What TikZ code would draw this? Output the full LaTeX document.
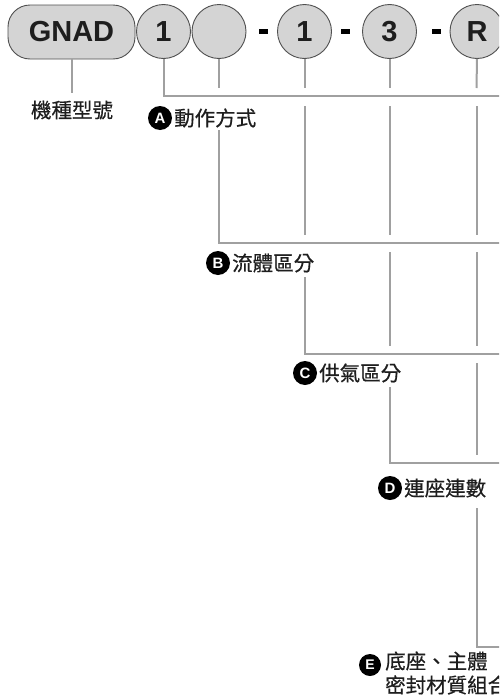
\documentclass[tikz,border=0pt]{standalone}
\usepackage{fontspec}
\setmainfont{Liberation Sans}
\newfontfamily\cjk[FakeBold=0.5]{Noto Sans CJK TC}
\definecolor{boxfill}{RGB}{212,212,212}
\definecolor{boxline}{RGB}{80,80,80}
\definecolor{leadcol}{RGB}{160,160,160}
\definecolor{inktext}{RGB}{30,30,30}
\begin{document}
\begin{tikzpicture}[x=1pt,y=-1pt,
  codebox/.style={draw=boxline,fill=boxfill,line width=0.9pt,rounded corners=22pt,minimum width=127pt,minimum height=54pt,inner sep=0pt,font=\fontsize{29}{29}\bfseries\selectfont,text=inktext},
  codecirc/.style={circle,draw=boxline,fill=boxfill,line width=0.9pt,minimum size=54pt,inner sep=0pt,font=\fontsize{29}{29}\bfseries\selectfont,text=inktext},
  dashmark/.style={fill=black,minimum width=9pt,minimum height=5pt,inner sep=0pt},
  leader/.style={draw=leadcol,line width=2pt},
  badge/.style={circle,fill=black,minimum size=24pt,inner sep=0pt,text=white,font=\fontsize{15}{15}\bfseries\selectfont},
  lbl/.style={anchor=west,inner sep=0pt,text=inktext,font=\cjk\fontsize{20.5}{24}\selectfont}
]
\useasboundingbox (0,0) rectangle (499,699);
\clip (0,0) rectangle (499,699);
\fill[white] (0,0) rectangle (499,699);

% top code row
\node[codebox] (gnad) at (71.5,32) {GNAD};
\node[codecirc] (c1) at (163.5,31.5) {1};
\node[codecirc] (c2) at (219,31.5) {};
\node[dashmark] (d1) at (263.5,31.5) {};
\node[codecirc] (c3) at (304.5,31.5) {1};
\node[dashmark] (d2) at (345,31.5) {};
\node[codecirc] (c4) at (389.5,31.5) {3};
\node[dashmark] (d3) at (436,31.5) {};
\node[codecirc] (c5) at (477,31.5) {R};

% labels
\node[inner sep=0pt,text=inktext,font=\cjk\fontsize{20.5}{24}\selectfont] (l0) at (72,110) {機種型號};
\node[badge] (bA) at (160,118) {A};
\node[lbl] (lA) at (174,118) {動作方式};
\node[badge] (bB) at (218,263) {B};
\node[lbl] (lB) at (232,263) {流體區分};
\node[badge] (bC) at (305,373) {C};
\node[lbl] (lC) at (319,373) {供氣區分};
\node[badge] (bD) at (390,488) {D};
\node[lbl] (lD) at (404,488) {連座連數};
\node[badge,minimum size=22pt,font=\fontsize{14}{14}\bfseries\selectfont] (bE) at (370,665) {E};
\node[lbl,align=left] (lE) at (385,673) {底座、主體\\密封材質組合};

% leader lines
\coordinate (g0) at (71.5,93);
\coordinate (eA) at (510,96);
\coordinate (eB) at (510,243);
\coordinate (eC) at (510,354);
\coordinate (eD) at (510,463);
\coordinate (eE) at (510,647);

\draw[leader] (gnad.south) -- (g0);
\draw[leader] (c1.south) |- (eA);

\draw[leader] (c2.south) -- (219,88);
\draw[leader] (219,130) |- (eB);

\draw[leader] (c3.south) -- (304.5,88);
\draw[leader] (304.5,106) -- (304.5,235);
\draw[leader] (304.5,277) |- (eC);

\draw[leader] (c4.south) -- (389.5,88);
\draw[leader] (389.5,106) -- (389.5,235);
\draw[leader] (389.5,252) -- (389.5,346);
\draw[leader] (389.5,387) |- (eD);

\draw[leader] (c5.south) -- (476.5,88);
\draw[leader] (476.5,106) -- (476.5,235);
\draw[leader] (476.5,252) -- (476.5,346);
\draw[leader] (476.5,363) -- (476.5,455);
\draw[leader] (476.5,508) |- (eE);
\end{tikzpicture}
\end{document}
